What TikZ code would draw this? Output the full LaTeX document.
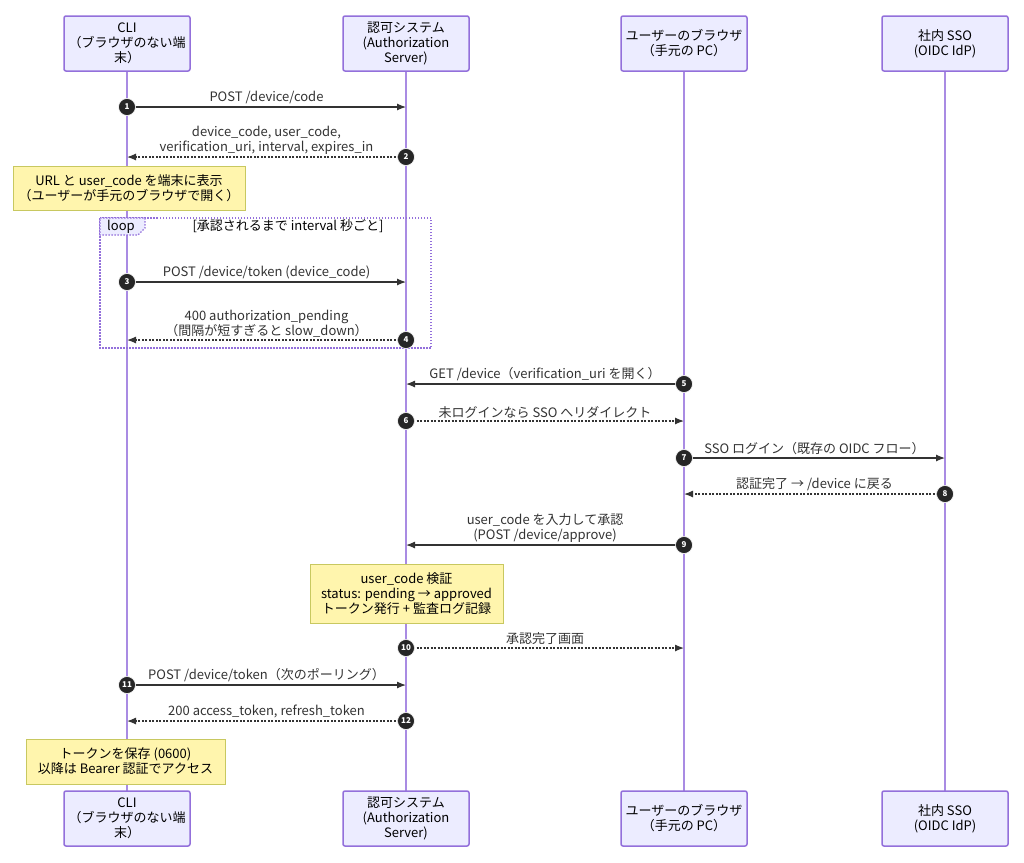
\documentclass[tikz,border=0pt]{standalone}
\usepackage{fontspec}
\setmainfont{Noto Sans CJK JP}
\usetikzlibrary{arrows.meta}

\definecolor{actorfill}{HTML}{ECECFF}
\definecolor{actorline}{HTML}{9370DB}
\definecolor{lifeline}{HTML}{A98BE3}
\definecolor{notefill}{HTML}{FFF5AD}
\definecolor{noteline}{HTML}{C8C860}
\definecolor{msgline}{HTML}{333333}

\def\xcli{127}
\def\xauth{406}
\def\xbrw{684}
\def\xsso{945}

\begin{document}
\begin{tikzpicture}[x=1pt,y=-1pt,>={Latex[length=9pt,width=7pt]},
  font=\fontsize{13}{15}\selectfont,
  actor/.style={draw=actorline,fill=actorfill,line width=1.5pt,rounded corners=2pt,
    minimum width=126pt,minimum height=55pt,align=center,inner sep=1pt},
  life/.style={draw=lifeline,line width=1.5pt},
  note/.style={draw=noteline,fill=notefill,line width=1pt,align=center,inner sep=1pt},
  call/.style={draw=msgline,line width=1.2pt,->},
  reply/.style={draw=msgline,line width=1.2pt,->,dash pattern=on 2pt off 1.5pt},
  msg/.style={midway,above=-1pt,align=center,text=msgline},
  seqnum/.style={circle,fill=black!85,draw=white,line width=0.6pt,text=white,
    minimum size=17pt,inner sep=0pt,font=\fontsize{8}{8}\selectfont\bfseries},
  frame/.style={draw=actorline,line width=1.2pt,dash pattern=on 1.5pt off 1.5pt}]

  \useasboundingbox[fill=white] (0,0) rectangle (1024,862);

  % actors, top and bottom
  \foreach \nm/\x/\txt in {cli/\xcli/{CLI\\（ブラウザのない端\\末）},
      auth/\xauth/{認可システム\\(Authorization\\Server)},
      brw/\xbrw/{ユーザーのブラウザ\\（手元の PC）},
      sso/\xsso/{社内 SSO\\(OIDC IdP)}}{
    \draw[life] (\x,71) -- (\x,791);
    \node[actor] (\nm T) at (\x,43.5) {\txt};
    \node[actor] (\nm B) at (\x,818.5) {\txt};
  }

  % loop frame
  \draw[frame] (100,218) rectangle (431,348);
  \draw[frame,fill=actorfill] (100,218) -- (145,218) -- (145,228) -- (138,235) -- (100,235) -- cycle;
  \node (looplbl) at (121,226.5) {loop};
  \node (loopcond) at (288,226) {[承認されるまで interval 秒ごと]};

  % message points on the lifelines
  \coordinate (c1) at (\xcli,107);   \coordinate (a1) at (\xauth,107);
  \coordinate (c2) at (\xcli,157);   \coordinate (a2) at (\xauth,157);
  \coordinate (c3) at (\xcli,282);   \coordinate (a3) at (\xauth,282);
  \coordinate (c4) at (\xcli,340);   \coordinate (a4) at (\xauth,340);
  \coordinate (a5) at (\xauth,384);  \coordinate (b5) at (\xbrw,384);
  \coordinate (a6) at (\xauth,421);  \coordinate (b6) at (\xbrw,421);
  \coordinate (b7) at (\xbrw,458);   \coordinate (s7) at (\xsso,458);
  \coordinate (b8) at (\xbrw,494);   \coordinate (s8) at (\xsso,494);
  \coordinate (a9) at (\xauth,545);  \coordinate (b9) at (\xbrw,545);
  \coordinate (a10) at (\xauth,648); \coordinate (b10) at (\xbrw,648);
  \coordinate (c11) at (\xcli,685);  \coordinate (a11) at (\xauth,685);
  \coordinate (c12) at (\xcli,721);  \coordinate (a12) at (\xauth,721);

  \draw[call] (c1) -- (a1) node[msg] {POST /device/code};
  \draw[reply] (a2) -- (c2) node[msg] {device\_code, user\_code,\\verification\_uri, interval, expires\_in};
  \draw[call] (c3) -- (a3) node[msg] {POST /device/token (device\_code)};
  \draw[reply] (a4) -- (c4) node[msg] {400 authorization\_pending\\（間隔が短すぎると slow\_down）};
  \draw[call] (b5) -- (a5) node[msg] {GET /device（verification\_uri を開く）};
  \draw[reply] (a6) -- (b6) node[msg] {未ログインなら SSO へリダイレクト};
  \draw[call] (b7) -- (s7) node[msg] {SSO ログイン（既存の OIDC フロー）};
  \draw[reply] (s8) -- (b8) node[msg] {認証完了 → /device に戻る};
  \draw[call] (b9) -- (a9) node[msg] {user\_code を入力して承認\\(POST /device/approve)};
  \draw[reply] (a10) -- (b10) node[msg] {承認完了画面};
  \draw[call] (c11) -- (a11) node[msg] {POST /device/token（次のポーリング）};
  \draw[reply] (a12) -- (c12) node[msg] {200 access\_token, refresh\_token};

  % notes
  \node[note,minimum width=232pt,minimum height=44pt] (note1) at (129,188)
    {URL と user\_code を端末に表示\\（ユーザーが手元のブラウザで開く）};
  \node[note,minimum width=193pt,minimum height=59pt] (note2) at (406.5,593.5)
    {user\_code 検証\\status: pending → approved\\トークン発行 + 監査ログ記録};
  \node[note,minimum width=199pt,minimum height=45pt] (note3) at (125.5,761.5)
    {トークンを保存 (0600)\\以降は Bearer 認証でアクセス};

  % sequence numbers
  \node[seqnum] (n1) at (c1) {1};
  \node[seqnum] (n2) at (a2) {2};
  \node[seqnum] (n3) at (c3) {3};
  \node[seqnum] (n4) at (a4) {4};
  \node[seqnum] (n5) at (b5) {5};
  \node[seqnum] (n6) at (a6) {6};
  \node[seqnum] (n7) at (b7) {7};
  \node[seqnum] (n8) at (s8) {8};
  \node[seqnum] (n9) at (b9) {9};
  \node[seqnum] (n10) at (a10) {10};
  \node[seqnum] (n11) at (c11) {11};
  \node[seqnum] (n12) at (a12) {12};
\end{tikzpicture}
\end{document}
